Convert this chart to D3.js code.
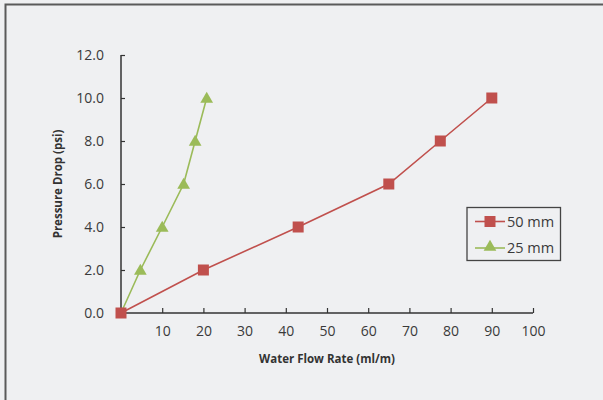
<!DOCTYPE html>
<html><head><meta charset="utf-8">
<script src="https://cdn.jsdelivr.net/npm/d3@7"></script>
<style>
html,body{margin:0;padding:0;background:#eff0f2;}
svg{display:block;}
</style></head>
<body>
<svg id="chart" width="603" height="400"></svg>
<script>
const xTicks = [10,20,30,40,50,60,70,80,90,100];
const yTicks = [0,2,4,6,8,10,12];
const series50x = [0,20,43,65,77.5,90];
const series50y = [0,2,4,6,8,10];
const series25x = [0,4.7,10,15.2,18,20.8];
const series25y = [0,2,4,6,8,10];
const seriesNames = ["50 mm","25 mm"];
const colors = ["#c0504d","#9bbb59"];

const svg = d3.select("#chart");
const font = "Open Sans, Noto Sans, sans-serif";

svg.append("rect").attr("x",5.5).attr("y",4.5).attr("width",700).attr("height",500)
  .attr("fill","#eff0f2").attr("stroke","#5a5a5a").attr("stroke-width",2);

const x = d3.scaleLinear().domain([0,100]).range([121,533]);
const y = d3.scaleLinear().domain([0,12]).range([313,55]);

const gx = svg.append("g").attr("transform","translate(0,313)")
  .call(d3.axisBottom(x).tickValues(xTicks).tickSize(-5).tickPadding(13).tickSizeOuter(0));
const gy = svg.append("g").attr("transform","translate(121,0)")
  .call(d3.axisLeft(y).tickValues(yTicks).tickSize(-4).tickPadding(17).tickFormat(d3.format(".1f")).tickSizeOuter(0));
[gx,gy].forEach(g=>{
  g.attr("font-size",14).attr("font-family",font);
  g.select(".domain").attr("stroke","#333").attr("stroke-width",1.5);
  g.selectAll(".tick line").attr("stroke","#333").attr("stroke-width",1.2);
  g.selectAll(".tick text").attr("fill","#3a3a3a").attr("font-size",14).attr("font-family",font);
});
gy.select(".domain").attr("d","M0,313V55");
gx.select(".domain").attr("d","M121,0H533");

svg.append("text").attr("x",327).attr("y",363).attr("text-anchor","middle")
  .attr("font-family",font).attr("font-size",11.5).attr("font-weight","bold").attr("fill","#333")
  .text("Water Flow Rate (ml/m)");
svg.append("text").attr("transform","translate(62,184) rotate(-90)").attr("text-anchor","middle")
  .attr("font-family",font).attr("font-size",11.5).attr("font-weight","bold").attr("fill","#333")
  .text("Pressure Drop (psi)");

const line = d3.line().x(d=>x(d[0])).y(d=>y(d[1]));
const d50 = series50x.map((v,i)=>[v,series50y[i]]);
const d25 = series25x.map((v,i)=>[v,series25y[i]]);

svg.append("path").datum(d25).attr("d",line).attr("fill","none").attr("stroke",colors[1]).attr("stroke-width",1.6);
const tri = d3.symbol().type(d3.symbolTriangle).size(70);
svg.selectAll(".tri").data(d25.slice(1)).enter().append("path")
  .attr("transform",d=>`translate(${x(d[0])},${y(d[1])+1})`).attr("d",tri).attr("fill",colors[1]);

svg.append("path").datum(d50).attr("d",line).attr("fill","none").attr("stroke",colors[0]).attr("stroke-width",1.6);
svg.selectAll(".sq").data(d50).enter().append("rect")
  .attr("x",d=>x(d[0])-5.5).attr("y",d=>y(d[1])-5.5).attr("width",11).attr("height",11).attr("fill",colors[0]);

// legend
const lg = svg.append("g");
lg.append("rect").attr("x",467).attr("y",207.5).attr("width",93.5).attr("height",53)
  .attr("fill","#eff0f2").attr("stroke","#444").attr("stroke-width",1.3);
[0,1].forEach(i=>{
  const cy = i===0 ? 221.5 : 248;
  lg.append("line").attr("x1",475).attr("x2",505).attr("y1",cy).attr("y2",cy).attr("stroke",colors[i]).attr("stroke-width",1.6);
  if(i===0){
    lg.append("rect").attr("x",484.5).attr("y",cy-5.5).attr("width",11).attr("height",11).attr("fill",colors[0]);
  } else {
    lg.append("path").attr("transform",`translate(490,${cy-1})`).attr("d",tri).attr("fill",colors[1]);
  }
  lg.append("text").attr("x",507).attr("y",cy+5).attr("font-family",font).attr("font-size",14.5).attr("fill","#3a3a3a").text(seriesNames[i]);
});
</script>
</body></html>
